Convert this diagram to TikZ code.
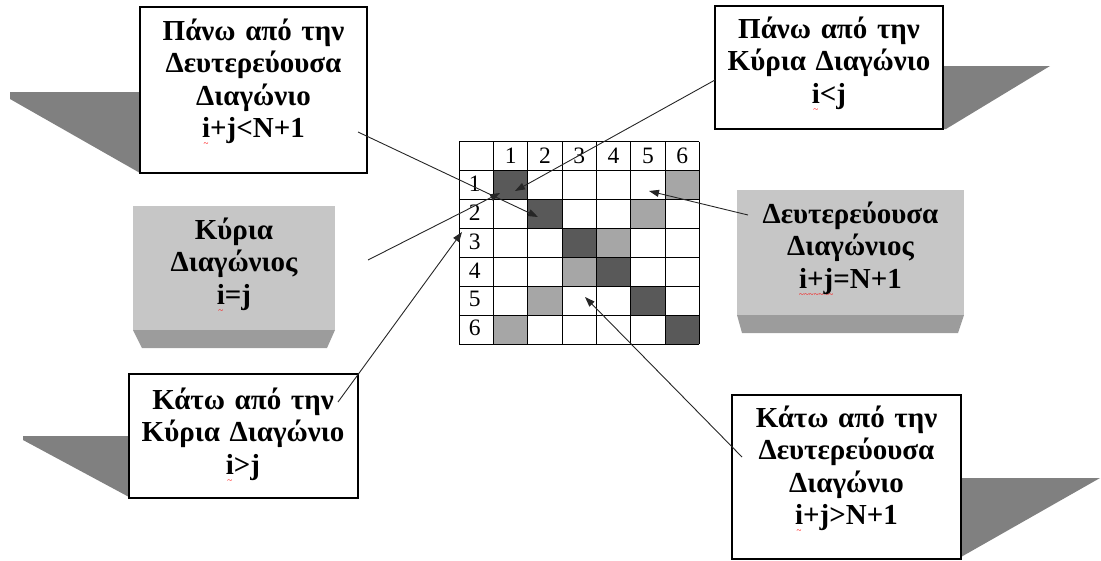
\documentclass[tikz,border=0pt]{standalone}
\usepackage{fontspec}
\setmainfont{Liberation Serif}
\usetikzlibrary{arrows.meta}
\newsavebox\wavebox
\newcommand\redwave[1]{\leavevmode\sbox\wavebox{#1}\rlap{\raisebox{-9pt}[0pt][0pt]{\color{red}\fontsize{9}{9}\selectfont\mdseries\hbox to \wd\wavebox{\xleaders\hbox{\textasciitilde}\hfill}}}\usebox\wavebox}
\definecolor{shadowgray}{HTML}{808080}
\definecolor{boxgray}{HTML}{C6C6C6}
\definecolor{bevelgray}{HTML}{9C9C9C}
\definecolor{darkcell}{HTML}{595959}
\definecolor{lightcell}{HTML}{A6A6A6}
\begin{document}
\begin{tikzpicture}[x=1pt,y=-1pt,
  box/.style={draw=black, line width=1.2pt, fill=white, inner sep=0pt, outer sep=0pt, anchor=north west},
  gbox/.style={fill=boxgray, inner sep=0pt, outer sep=0pt, anchor=north west},
  txt/.style={anchor=base, text width=226pt, align=center, inner sep=0pt,
    font=\fontsize{29}{32.5}\selectfont\bfseries},
  arr/.style={-{Triangle[length=10pt,width=7pt]}, line width=0.9pt, black!85},
  num/.style={font=\fontsize{23.5}{23.5}\selectfont, inner sep=0pt},
  shadow/.style={fill=shadowgray},
  bevel/.style={fill=bevelgray}
]
\useasboundingbox (0,0) rectangle (1101,560);

% ---- grid ----
\def\gx{459.3}\def\gy{141.7}\def\cw{34.29}\def\ch{28.9}
\foreach \i in {1,...,6}{
  \fill[darkcell] (\gx+\i*\cw, \gy+\i*\ch) rectangle ++(\cw,\ch);
  \fill[lightcell] (\gx+7*\cw-\i*\cw, \gy+\i*\ch) rectangle ++(\cw,\ch);
}
\foreach \k in {0,...,7}{
  \draw[line width=0.9pt] (\gx+\k*\cw,\gy) -- (\gx+\k*\cw,\gy+7*\ch);
  \draw[line width=0.9pt] (\gx,\gy+\k*\ch) -- (\gx+7*\cw,\gy+\k*\ch);
}
\foreach \k in {1,...,6}{
  \node[num] (c\k) at (\gx+\k*\cw+0.5*\cw, \gy+0.5*\ch) {\k};
  \node[num] (r\k) at (\gx+0.45*\cw, \gy+\k*\ch+0.45*\ch) {\k};
}

% ---- shadows ----
\fill[shadow] (10,92) -- (140,92) -- (140,173) -- (10,99) -- cycle;
\fill[shadow] (944,66) -- (1050,66) -- (946,129) -- (944,129) -- cycle;
\fill[shadow] (23,436) -- (129,436) -- (129,497) -- (23,440) -- cycle;
\fill[shadow] (961,478) -- (1100,478) -- (961,557) -- cycle;
\fill[bevel] (133,330) -- (335,330) -- (327,348) -- (142,348) -- cycle;
\fill[bevel] (737,315) -- (964,315) -- (958,333) -- (742,333) -- cycle;

% ---- boxes ----
\node[box, minimum width=227pt, minimum height=166pt] (tl) at (140,7) {};
\node[box, minimum width=228pt, minimum height=123pt] (tr) at (715,6) {};
\node[gbox, minimum width=202pt, minimum height=124pt] (ml) at (133,206) {};
\node[gbox, minimum width=227pt, minimum height=125pt] (mr) at (737,190) {};
\node[box, minimum width=229pt, minimum height=124pt] (bl) at (129,374) {};
\node[box, minimum width=229pt, minimum height=164pt] (br) at (732,395) {};

% ---- texts ----
\node[txt] (tlt) at (253.5,40) {Πάνω από την\\Δευτερεύουσα\\Διαγώνιο\\\redwave{i}+j<N+1};
\node[txt] (trt) at (829,38) {Πάνω από την\\Κύρια Διαγώνιο\\\redwave{i}<j};
\node[txt] (mlt) at (234,239) {Κύρια\\Διαγώνιος\\\redwave{i}=j};
\node[txt] (mrt) at (850.5,223) {Δευτερεύουσα\\Διαγώνιος\\\redwave{i+j}=N+1};
\node[txt] (blt) at (243,409) {Κάτω από την\\Κύρια Διαγώνιο\\\redwave{i}>j};
\node[txt] (brt) at (846.5,427) {Κάτω από την\\Δευτερεύουσα\\Διαγώνιο\\\redwave{i}+j>N+1};

% ---- arrows ----
\coordinate (s1) at (358,132); \coordinate (e1) at (538,217);
\coordinate (s2) at (715,80);  \coordinate (e2) at (515,191);
\coordinate (s3) at (368,260); \coordinate (e3) at (500,193);
\coordinate (s4) at (338,402); \coordinate (e4) at (462,232);
\coordinate (s5) at (748,215); \coordinate (e5) at (649,191);
\coordinate (s6) at (742,457); \coordinate (e6) at (585,297);
\foreach \n in {1,...,6}{ \draw[arr] (s\n) -- (e\n); }
\end{tikzpicture}
\end{document}
